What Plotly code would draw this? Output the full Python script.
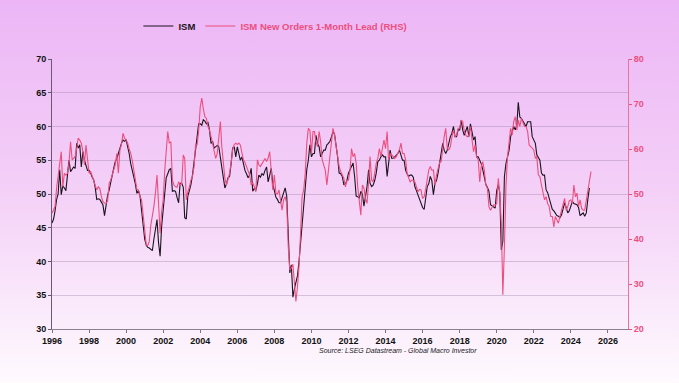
import base64
import pandas as pd
import plotly.graph_objects as go

# ---------------- data (monthly) ----------------
ism_start = "1996-01-01"
ism_values = [
    # 1996
    45.7, 46.3, 47.5, 49.2, 50.0, 53.6, 49.9, 51.2, 50.9, 50.5, 52.8, 55.0,
    # 1997
    53.3, 53.6, 54.0, 53.8, 57.5, 56.8, 57.3, 54.0, 56.3, 55.0, 54.3, 53.5,
    # 1998
    53.5, 53.1, 52.5, 52.1, 51.0, 49.2, 49.3, 49.2, 48.8, 48.4, 46.8, 48.5,
    # 1999
    49.8, 50.6, 51.8, 52.6, 53.8, 54.8, 55.2, 56.0, 57.0, 57.5, 58.0, 57.8,
    # 2000
    58.0, 57.0, 56.0, 54.5, 53.6, 52.4, 51.5, 50.1, 50.5, 49.7, 47.7, 45.0,
    # 2001
    43.3, 42.4, 42.1, 42.0, 41.8, 41.6, 43.3, 44.5, 46.2, 42.8, 40.8, 45.2,
    # 2002
    48.0, 50.1, 52.4, 53.0, 53.6, 53.8, 50.4, 50.5, 50.4, 49.5, 48.7, 51.6,
    # 2003
    51.6, 51.0, 46.5, 46.3, 49.7, 50.5, 51.4, 52.8, 54.5, 56.5, 58.5, 60.4,
    # 2004
    60.4, 60.2, 61.0, 60.8, 60.4, 60.6, 59.5, 57.5, 57.8, 56.8, 57.0, 57.2,
    # 2005
    57.0, 55.5, 54.6, 52.4, 50.9, 51.5, 52.4, 52.6, 54.5, 56.8, 57.0, 55.5,
    # 2006
    57.0, 56.0, 55.0, 55.5, 54.3, 53.5, 53.0, 52.4, 52.8, 53.8, 50.4, 50.8,
    # 2007
    50.6, 51.5, 52.8, 52.5, 53.0, 52.8, 53.5, 54.0, 51.8, 53.0, 53.8, 51.5,
    # 2008
    50.6, 49.5, 49.2, 48.7, 48.7, 49.5, 50.2, 50.9, 49.7, 45.2, 38.3, 39.5,
    # 2009
    34.7, 36.0, 36.9, 37.9, 40.0, 42.8, 46.0, 49.2, 52.0, 53.6, 55.0, 57.3,
    # 2010
    55.5, 56.0, 56.0, 58.7, 57.5, 57.0, 55.5, 56.0, 56.5, 56.5, 57.3, 57.5,
    # 2011
    57.8, 58.5, 59.2, 58.9, 57.5, 55.5, 53.1, 53.0, 52.6, 51.4, 51.5, 52.0,
    # 2012
    53.1, 53.6, 54.0, 54.6, 52.6, 49.7, 49.6, 49.4, 50.4, 50.0, 48.2, 49.5,
    # 2013
    51.1, 53.6, 51.6, 51.1, 51.3, 52.0, 53.1, 54.8, 55.0, 55.5, 55.8, 55.5,
    # 2014
    55.5, 52.6, 55.0, 56.5, 55.3, 55.3, 55.5, 55.7, 56.0, 56.5, 55.8, 55.0,
    # 2015
    55.0, 53.5, 53.0, 52.6, 52.8, 52.8, 52.5, 51.1, 50.5, 49.9, 49.2, 48.5,
    # 2016
    48.0, 47.7, 49.7, 51.1, 51.5, 52.6, 52.0, 49.9, 51.6, 52.0, 53.1, 54.5,
    # 2017
    55.5, 57.5, 56.5, 56.0, 56.5, 57.5, 58.5, 59.0, 60.0, 58.5, 58.5, 59.5,
    # 2018
    59.5, 60.9, 59.5, 58.7, 59.5, 60.0, 58.5, 60.4, 59.2, 58.0, 58.5, 55.5,
    # 2019
    55.5, 55.0, 54.5, 53.6, 52.5, 51.4, 51.0, 50.4, 48.4, 48.2, 48.0, 47.9,
    # 2020
    50.5, 51.4, 50.2, 41.7, 43.0, 52.6, 54.5, 55.5, 56.5, 58.5, 59.5, 60.0,
    # 2021
    59.5, 60.2, 63.6, 61.4, 61.2, 60.8, 60.2, 60.0, 60.7, 60.7, 60.7, 58.5,
    # 2022
    58.0, 57.5, 55.8, 55.3, 55.0, 53.1, 52.8, 52.8, 50.6, 50.2, 49.2, 48.4,
    # 2023
    47.7, 47.5, 47.2, 46.8, 46.7, 46.5, 46.9, 47.7, 48.7, 48.0, 47.2, 47.5,
    # 2024
    48.2, 48.9, 48.6, 48.5, 48.4, 48.0, 46.8, 47.0, 47.2, 46.7, 47.2, 49.2,
    # 2025
    50.9,
]

new_orders_start = "1996-01-01"
new_orders_values = [
    # 1996
    45.7, 46.4, 47.2, 51.3, 53.9, 57.6, 59.4, 51.6, 54.6, 54.2, 54.6, 56.8,
    # 1997
    61.6, 57.6, 57.9, 58.3, 60.1, 62.4, 62.0, 61.3, 59.4, 56.5, 60.9, 57.6,
    # 1998
    54.6, 55.0, 54.0, 53.1, 52.0, 50.9, 51.6, 51.2, 49.4, 48.3, 48.0, 47.9,
    # 1999
    48.5, 52.4, 53.0, 54.2, 55.3, 56.5, 59.0, 54.6, 59.8, 61.0, 63.5, 62.4,
    # 2000
    62.0, 61.3, 60.0, 59.0, 57.5, 55.0, 52.4, 51.0, 50.9, 49.4, 48.7, 45.5,
    # 2001
    42.7, 38.7, 38.5, 39.4, 43.0, 45.0, 47.2, 50.2, 54.2, 47.9, 41.3, 46.0,
    # 2002
    48.7, 55.3, 60.0, 63.9, 61.3, 61.6, 53.1, 52.0, 51.6, 51.5, 52.7, 52.0,
    # 2003
    52.4, 58.7, 57.9, 48.7, 50.5, 51.5, 53.1, 53.9, 56.0, 60.9, 61.0, 64.0,
    # 2004
    69.4, 71.3, 69.0, 67.2, 66.8, 65.0, 64.2, 63.0, 61.3, 59.5, 57.9, 59.0,
    # 2005
    62.7, 66.1, 60.5, 56.8, 53.5, 52.0, 53.1, 54.6, 57.0, 59.8, 61.0, 61.3,
    # 2006
    61.0, 61.3, 60.9, 58.7, 57.6, 57.0, 56.1, 55.0, 54.2, 52.0, 52.5, 51.6,
    # 2007
    50.5, 57.6, 56.5, 56.1, 56.8, 57.2, 57.9, 57.2, 58.0, 59.4, 54.6, 50.9,
    # 2008
    54.2, 50.2, 50.0, 50.9, 48.7, 46.4, 48.7, 49.4, 47.9, 38.3, 33.1, 33.5,
    # 2009
    34.4, 28.7, 26.1, 29.4, 33.9, 41.3, 49.4, 50.9, 54.6, 61.3, 64.6, 64.2,
    # 2010
    59.0, 63.9, 63.9, 61.6, 60.5, 63.9, 61.6, 57.6, 56.5, 55.3, 52.0, 55.0,
    # 2011
    59.0, 61.3, 64.6, 63.1, 60.5, 57.5, 56.1, 55.0, 54.0, 53.5, 51.6, 53.0,
    # 2012
    53.1, 55.3, 60.1, 58.3, 59.0, 56.8, 51.6, 47.9, 45.3, 52.0, 51.3, 49.0,
    # 2013
    47.9, 52.7, 58.3, 53.1, 52.7, 54.6, 56.8, 57.9, 60.1, 58.3, 60.0, 62.0,
    # 2014
    60.1, 63.9, 57.6, 59.0, 58.7, 58.3, 57.9, 58.3, 59.0, 59.8, 61.3, 59.0,
    # 2015
    59.0, 57.6, 54.6, 53.5, 52.7, 53.1, 53.0, 52.7, 51.6, 50.5, 51.0, 50.9,
    # 2016
    49.0, 49.4, 51.0, 53.5, 55.3, 56.1, 55.3, 55.3, 52.0, 54.2, 55.7, 57.0,
    # 2017
    57.2, 60.5, 62.7, 64.6, 60.1, 59.8, 60.5, 62.7, 64.2, 62.7, 63.1, 64.6,
    # 2018
    64.6, 66.4, 66.1, 64.0, 63.1, 62.7, 63.1, 65.0, 61.3, 59.4, 60.9, 58.3,
    # 2019
    57.6, 52.7, 56.1, 57.2, 55.3, 52.0, 51.3, 47.2, 46.4, 47.2, 47.6, 47.5,
    # 2020
    47.9, 53.5, 50.2, 43.4, 27.6, 38.3, 51.6, 58.3, 62.0, 64.6, 63.1, 66.1,
    # 2021
    67.2, 64.2, 66.4, 65.0, 66.8, 65.7, 65.0, 65.0, 63.9, 60.9, 60.5, 60.0,
    # 2022
    59.8, 57.9, 58.3, 54.2, 53.9, 52.0, 50.2, 48.7, 49.4, 47.9, 47.2, 45.0,
    # 2023
    45.0, 42.7, 45.0, 44.2, 43.5, 45.0, 46.4, 47.9, 49.0, 46.4, 47.2, 48.5,
    # 2024
    48.7, 47.9, 52.0, 49.4, 50.2, 47.2, 48.7, 46.8, 46.4, 46.4, 48.7, 50.2,
    # 2025
    52.7, 55.0,
]

ism_dates = pd.date_range(ism_start, periods=len(ism_values), freq="MS")
no_dates = pd.date_range(new_orders_start, periods=len(new_orders_values), freq="MS")

x_tick_years = list(range(1996, 2027, 2))
left_ticks = [30, 35, 40, 45, 50, 55, 60, 65, 70]
right_ticks = [20, 30, 40, 50, 60, 70, 80]

# ---------------- style ----------------
W, H = 679, 383
ML, MR, MT, MB = 52, 51, 59, 54
PW, PH = W - ML - MR, H - MT - MB

PINK = "#EC4F7E"
BLACK = "#1b1320"
FONT = "Liberation Sans Narrow, Arial Narrow, Liberation Sans, Arial, sans-serif"

svg = f'''<svg xmlns="http://www.w3.org/2000/svg" width="{W}" height="{H}" preserveAspectRatio="none">
<defs><linearGradient id="g" x1="0" y1="0" x2="0" y2="1">
<stop offset="0" stop-color="#ECB6F6"/>
<stop offset="0.5" stop-color="#F4D0F7"/>
<stop offset="1" stop-color="#FEFAFE"/>
</linearGradient></defs>
<rect x="0" y="0" width="{W}" height="{H}" fill="url(#g)"/></svg>'''
bg_uri = "data:image/svg+xml;base64," + base64.b64encode(svg.encode()).decode()

fig = go.Figure()
fig.add_trace(go.Scatter(
    x=ism_dates, y=ism_values, mode="lines", name="<b>ISM</b>",
    line=dict(color=BLACK, width=1.1), yaxis="y",
))
fig.add_trace(go.Scatter(
    x=no_dates, y=new_orders_values, mode="lines",
    name=f"<b><span style='color:{PINK}'>ISM New Orders 1-Month Lead (RHS)</span></b>",
    line=dict(color=PINK, width=1.1), yaxis="y2",
))

fig.update_layout(
    width=W, height=H,
    margin=dict(l=ML, r=MR, t=MT, b=MB, autoexpand=False),
    paper_bgcolor="rgba(0,0,0,0)",
    plot_bgcolor="rgba(0,0,0,0)",
    font=dict(family=FONT, size=10, color="#111111"),
    showlegend=True,
    legend=dict(
        orientation="h", x=0.15, xanchor="left", y=1.122, yanchor="middle",
        bgcolor="rgba(0,0,0,0)", font=dict(size=9.5, color=BLACK, family=FONT),
        itemwidth=30, tracegroupgap=0, itemclick=False,
    ),
    images=[dict(
        source=bg_uri, xref="paper", yref="paper",
        x=-ML / PW, y=1 + MT / PH, sizex=W / PW, sizey=H / PH,
        xanchor="left", yanchor="top", sizing="stretch", layer="below",
    )],
    xaxis=dict(
        type="date",
        range=["1996-01-01", "2027-02-01"],
        tickvals=[f"{y}-01-01" for y in x_tick_years],
        ticktext=[f"<b>{y}</b>" for y in x_tick_years],
        ticks="outside", ticklen=3, tickcolor="#777777",
        showline=True, linecolor="#8a8090", linewidth=1,
        showgrid=False, zeroline=False,
        tickfont=dict(size=9, color="#111111"),
    ),
    yaxis=dict(
        range=[30, 70], tickvals=left_ticks,
        ticktext=[f"<b>{v}</b>" for v in left_ticks],
        ticks="outside", ticklen=3, tickcolor="#6a5a70",
        showline=True, linecolor="#6a5a70", linewidth=1,
        showgrid=True, gridcolor="rgba(150,120,160,0.35)", gridwidth=1,
        zeroline=False, tickfont=dict(size=9, color="#111111"),
    ),
    yaxis2=dict(
        range=[20, 80], tickvals=right_ticks,
        ticktext=[f"<b>{v}</b>" for v in right_ticks],
        overlaying="y", side="right",
        ticks="outside", ticklen=3, tickcolor=PINK,
        showline=True, linecolor="#E9749C", linewidth=1,
        showgrid=False, zeroline=False,
        tickfont=dict(size=9, color=PINK),
    ),
    annotations=[dict(
        text="<i>Source: LSEG Datastream - Global Macro Investor</i>",
        xref="paper", yref="paper", x=(479 - ML) / PW, y=-(350 - MT - PH) / PH,
        xanchor="right", yanchor="middle", showarrow=False,
        font=dict(size=7, color="#222222", family=FONT),
    )],
)

fig.write_html(
    "out.html",
    config={"displayModeBar": False},
    post_script="document.body.style.margin='0';document.body.style.padding='0';"
                "document.documentElement.style.margin='0';",
)
